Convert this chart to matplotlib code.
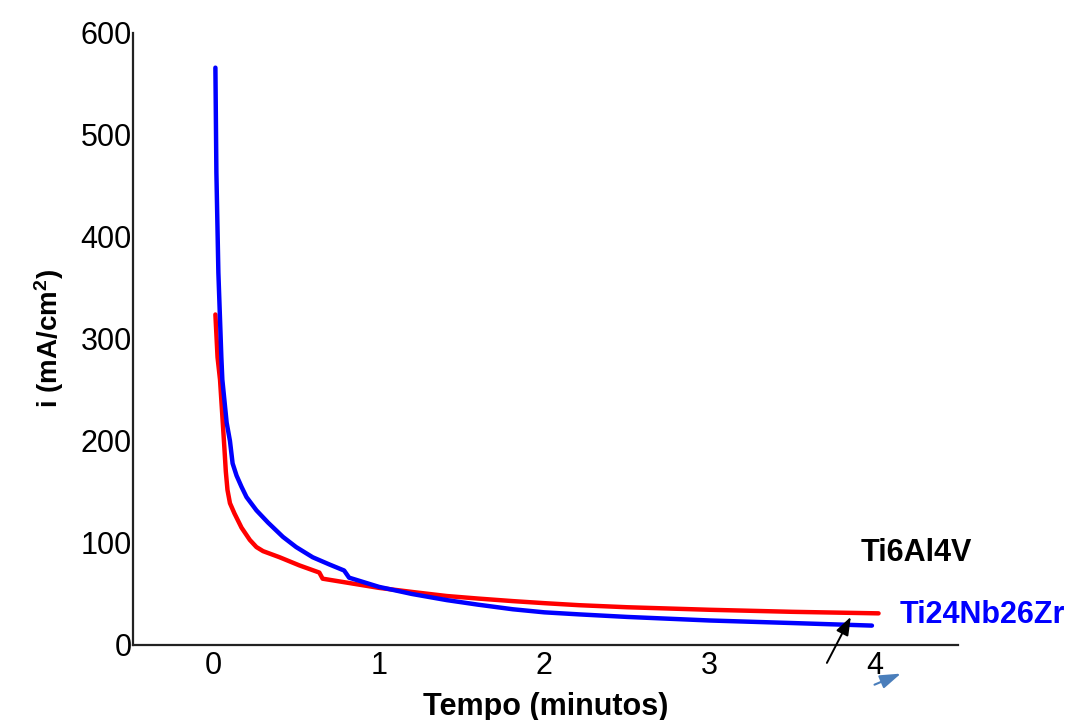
import matplotlib
matplotlib.use('Agg')
import matplotlib.pyplot as plt

plt.rcParams['font.family'] = ['Liberation Sans', 'DejaVu Sans']
plt.rcParams['mathtext.fontset'] = 'custom'
plt.rcParams['mathtext.rm'] = 'Liberation Sans'
plt.rcParams['mathtext.default'] = 'regular'

# Ti24Nb26Zr (azul)
t_nb = [0.012, 0.018, 0.03, 0.048, 0.054, 0.08, 0.10, 0.116, 0.14, 0.17,
        0.20, 0.26, 0.33, 0.42, 0.50, 0.60, 0.70, 0.79, 0.82, 1.0,
        1.2, 1.41, 1.6, 1.81, 2.0, 2.21, 2.5, 3.0, 3.5, 3.98]
i_nb = [566, 463, 365, 282, 260, 218, 200, 178, 166, 155,
        145, 132, 120, 106, 96, 86, 79, 73, 66, 57,
        50, 44, 39.5, 35, 32, 30, 27.5, 24, 21.5, 19]

# Ti6Al4V (vermelho)
t_al = [0.012, 0.025, 0.04, 0.066, 0.075, 0.085, 0.10, 0.127, 0.17, 0.22,
        0.26, 0.30, 0.40, 0.46, 0.52, 0.64, 0.66, 1.0, 1.2, 1.41,
        1.6, 1.81, 2.0, 2.21, 2.5, 3.0, 3.5, 4.02]
i_al = [324, 282, 260, 194, 170, 152, 139, 129, 115, 103,
        96, 92, 86, 82, 78, 71, 65, 56, 52, 48,
        45.5, 43, 41, 39, 37, 34.5, 32.5, 31]

xticks = [0, 1, 2, 3, 4]
yticks = [0, 100, 200, 300, 400, 500, 600]

fig = plt.figure(figsize=(10.7, 7.2), dpi=100)
ax = fig.add_axes([0.1243, 0.1042, 0.7710, 0.85])

ax.plot(t_al, i_al, color='#ff0000', lw=3.2, solid_capstyle='round')
ax.plot(t_nb, i_nb, color='#0000ff', lw=3.2, solid_capstyle='round')

ax.set_xlim(-0.486, 4.50)
ax.set_ylim(0, 600)
ax.set_xticks(xticks)
ax.set_yticks(yticks)
ax.tick_params(length=0, labelsize=22)
ax.tick_params(axis='y', pad=1)
ax.tick_params(axis='x', pad=4)
for s in ['top', 'right']:
    ax.spines[s].set_visible(False)
for s in ['left', 'bottom']:
    ax.spines[s].set_linewidth(1.6)
    ax.spines[s].set_color('#222222')

ax.set_xlabel('Tempo (minutos)', fontsize=22, fontweight='bold', labelpad=8)
ax.set_ylabel('i (mA/cm$^2$)', fontsize=20, fontweight='bold', labelpad=10)

ax.text(4.25, 90, 'Ti6Al4V', fontsize=22, fontweight='bold', color='black',
        ha='center', va='center')
ax.text(4.15, 29, 'Ti24Nb26Zr', fontsize=22, fontweight='bold', color='#0000ff',
        ha='left', va='center', clip_on=False)

# setas
ax.annotate('', xy=(3.86, 30), xytext=(3.70, -20), annotation_clip=False,
            arrowprops=dict(arrowstyle='-|>,head_width=0.4,head_length=1.1',
                            color='black', lw=1.4, mutation_scale=10))
ax.annotate('', xy=(4.17, -27), xytext=(3.98, -40), annotation_clip=False,
            arrowprops=dict(arrowstyle='-|>,head_width=0.3,head_length=0.9',
                            color='#4a7ebb', lw=1.5, mutation_scale=14))

plt.savefig('out.png')
